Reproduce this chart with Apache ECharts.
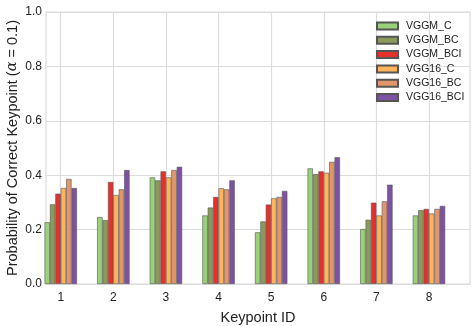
<!DOCTYPE html>
<html>
<head>
<meta charset="utf-8">
<script src="https://cdn.jsdelivr.net/npm/echarts@6/dist/echarts.min.js"></script>
<style>
  html, body { margin: 0; padding: 0; background: #fff; }
  #chart { width: 476px; height: 326px; }
</style>
</head>
<body>
<div id="chart"></div>
<script>
// keypoint ids on the x axis
var keypoints = [1, 2, 3, 4, 5, 6, 7, 8];
var yTicks = [0, 0.2, 0.4, 0.6, 0.8, 1.0];

// PCK values
var vggmC    = [0.227, 0.246, 0.392, 0.252, 0.190, 0.425, 0.202, 0.252];
var vggmBC   = [0.293, 0.235, 0.381, 0.281, 0.230, 0.404, 0.236, 0.271];
var vggmBCI  = [0.332, 0.375, 0.414, 0.320, 0.292, 0.414, 0.299, 0.276];
var vgg16C   = [0.353, 0.327, 0.392, 0.352, 0.315, 0.409, 0.252, 0.259];
var vgg16BC  = [0.386, 0.348, 0.419, 0.348, 0.320, 0.449, 0.304, 0.276];
var vgg16BCI = [0.353, 0.419, 0.431, 0.381, 0.342, 0.466, 0.365, 0.287];

var names = ['VGGM_C', 'VGGM_BC', 'VGGM_BCI', 'VGG16_C', 'VGG16_BC', 'VGG16_BCI'];
var colors = ['#99d17b', '#8a9a5b', '#e4312d', '#feb35c', '#e2966b', '#7e52a3'];
var values = [vggmC, vggmBC, vggmBCI, vgg16C, vgg16BC, vgg16BCI];

var font = 'Liberation Sans, Arial, sans-serif';

var series = names.map(function (n, i) {
  return {
    name: n,
    type: 'bar',
    barWidth: 5.4,
    barGap: '0%',
    itemStyle: { color: colors[i], borderColor: '#555', borderWidth: 0.6 },
    data: keypoints.map(function (k, j) { return [k, values[i][j]]; })
  };
});

var myChart = echarts.init(document.getElementById('chart'));
myChart.setOption({
  animation: false,
  textStyle: { fontFamily: font },
  grid: {
    left: 46, right: 6, top: 12, bottom: 42,
    outerBoundsMode: 'none',
    containLabel: false,
    show: true, borderColor: '#dcdcdc', borderWidth: 1.2
  },
  legend: {
    orient: 'vertical',
    left: 371, top: 15,
    itemWidth: 21, itemHeight: 7, itemGap: 2.3,
    icon: 'rect',
    textStyle: { fontSize: 10.5, color: '#222', lineHeight: 12, padding: [0, 0, 0, 3] },
    data: names
  },
  xAxis: {
    type: 'value',
    min: 0.72, max: 8.78,
    name: 'Keypoint ID',
    nameLocation: 'middle',
    nameGap: 26,
    nameMoveOverlap: false,
    nameTextStyle: { fontSize: 14.5, color: '#222' },
    axisLine: { show: false },
    axisTick: { show: false, customValues: keypoints },
    axisLabel: { customValues: keypoints, fontSize: 12, color: '#222', margin: 8 },
    splitLine: { show: true, lineStyle: { color: '#dcdcdc', width: 1.2 } }
  },
  yAxis: {
    type: 'value',
    min: 0, max: 1, interval: 0.2,
    name: 'Probability of Correct Keypoint ({i|α} = 0.1)',
    nameLocation: 'middle',
    nameGap: 26,
    nameMoveOverlap: false,
    nameTextStyle: {
      fontSize: 14.5, color: '#222',
      rich: { i: { fontSize: 14.5, fontStyle: 'italic', fontFamily: 'DejaVu Serif', color: '#222' } }
    },
    axisLine: { show: false },
    axisTick: { show: false },
    axisLabel: {
      fontSize: 12, color: '#222', margin: 4,
      formatter: function (v) { return v.toFixed(1); }
    },
    splitLine: { show: true, lineStyle: { color: '#dcdcdc', width: 1.2 } }
  },
  series: series
});
</script>
</body>
</html>
